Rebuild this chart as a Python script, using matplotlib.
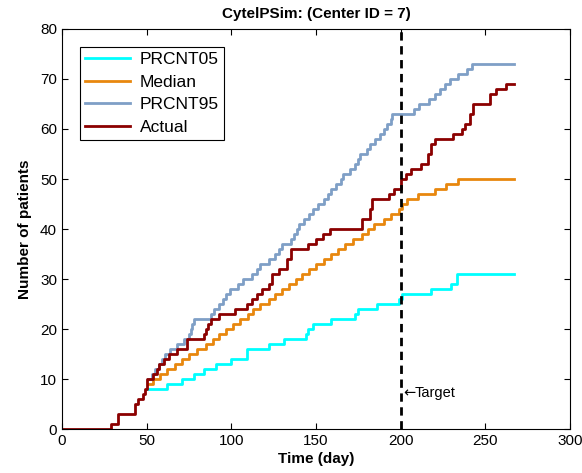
import matplotlib
matplotlib.use("Agg")
import matplotlib.pyplot as plt

plt.rcParams['font.family'] = ['Liberation Sans', 'DejaVu Sans']

# Step data: value reached at given day (stairs, 'post')
p05_days = [51, 62, 71, 78, 84, 91, 100, 109, 122, 131, 144, 145, 148, 159, 173, 175, 186, 199, 201, 218, 230, 233, 267]
p05_vals = [8, 9, 10, 11, 12, 13, 14, 16, 17, 18, 19, 20, 21, 22, 23, 24, 25, 26, 27, 28, 29, 31, 31]

med_days = [51, 54, 58, 62, 67, 71, 75, 80, 85, 89, 93, 97, 101, 105, 110, 113, 117, 122, 126, 130,
            134, 138, 142, 146, 150, 155, 159, 163, 167, 172, 177, 181, 184, 190, 194, 199, 201, 204,
            210, 220, 227, 234, 267]
med_vals = [9, 10, 11, 12, 13, 14, 15, 16, 17, 18, 19, 20, 21, 22, 23, 24, 25, 26, 27, 28,
            29, 30, 31, 32, 33, 34, 35, 36, 37, 38, 39, 40, 41, 42, 43, 44, 45, 46,
            47, 48, 49, 50, 50]

p95_days = [51, 53, 55, 57, 59, 61, 64, 68, 72, 75, 76, 77, 78, 88, 90, 93, 95, 97, 99, 104,
            107, 112, 115, 117, 122, 126, 128, 130, 135, 137, 139, 140, 143, 146, 148, 151, 155,
            157, 159, 162, 165, 166, 170, 173, 175, 176, 180, 182, 185, 188, 190, 192, 194, 195,
            208, 211, 217, 220, 223, 226, 229, 234, 239, 242, 267]
p95_vals = [10, 11, 12, 13, 14, 15, 16, 17, 18, 19, 20, 21, 22, 23, 24, 25, 26, 27, 28, 29,
            30, 31, 32, 33, 34, 35, 36, 37, 38, 39, 40, 41, 42, 43, 44, 45, 46,
            47, 48, 49, 50, 51, 52, 53, 54, 55, 56, 57, 58, 59, 60, 61, 62, 63,
            64, 65, 66, 67, 68, 69, 70, 71, 72, 73, 73]

act_days = [0, 29, 33, 43, 45, 48, 49, 50, 54, 56, 57, 60, 63, 68, 74, 84, 85, 86, 88, 93,
            102, 109, 112, 115, 118, 122, 124, 128, 133, 135, 145, 150, 154, 158, 177, 182, 183,
            193, 196, 200, 203, 206, 212, 216, 218, 220, 231, 236, 238, 241, 243, 253, 256, 262, 267]
act_vals = [0, 1, 3, 5, 6, 7, 8, 10, 11, 12, 13, 14, 15, 16, 18, 19, 20, 21, 22, 23,
            24, 25, 26, 27, 28, 29, 31, 32, 34, 36, 37, 38, 39, 40, 42, 44, 46,
            47, 48, 50, 51, 52, 53, 55, 57, 58, 59, 60, 61, 63, 65, 67, 68, 69, 69]

target_day = 200

fig = plt.figure(figsize=(5.82, 4.73), dpi=100)
ax = fig.add_axes([0.1065, 0.093, 0.8729, 0.8457])

ax.step(p05_days, p05_vals, where='post', color='#00FFFF', lw=2, label='PRCNT05')
ax.step(med_days, med_vals, where='post', color='#E8870E', lw=2, label='Median')
ax.step(p95_days, p95_vals, where='post', color='#7F9FC6', lw=2, label='PRCNT95')
ax.step(act_days, act_vals, where='post', color='#8B0000', lw=2, label='Actual')

ax.axvline(target_day, color='black', lw=2, linestyle=(0, (3, 2)))
ax.text(target_day + 1.5, 7.2, '\u2190', fontsize=10.5, va='center', ha='left',
        family=['DejaVu Sans'])
ax.text(target_day + 8, 7.2, 'Target', fontsize=10.5, va='center', ha='left')

ax.set_xlim(0, 300)
ax.set_ylim(0, 80)
ax.set_xticks(range(0, 301, 50))
ax.set_yticks(range(0, 81, 10))
ax.tick_params(direction='in', top=True, right=True, labelsize=11, length=4)
for s in ax.spines.values():
    s.set_linewidth(0.8)

ax.set_title('CytelPSim: (Center ID = 7)', fontsize=11, fontweight='bold', pad=8)
ax.set_xlabel('Time (day)', fontsize=11, fontweight='bold', labelpad=3)
ax.set_ylabel('Number of patients', fontsize=11, fontweight='bold', labelpad=6)

leg = ax.legend(loc='upper left', bbox_to_anchor=(0.035, 0.955), borderaxespad=0,
                fontsize=12.5, fancybox=False, framealpha=1, edgecolor='black',
                handlelength=2.6, borderpad=0.3, labelspacing=0.42, handletextpad=0.55)
leg.get_frame().set_linewidth(0.8)

fig.savefig('out.png', dpi=100)
